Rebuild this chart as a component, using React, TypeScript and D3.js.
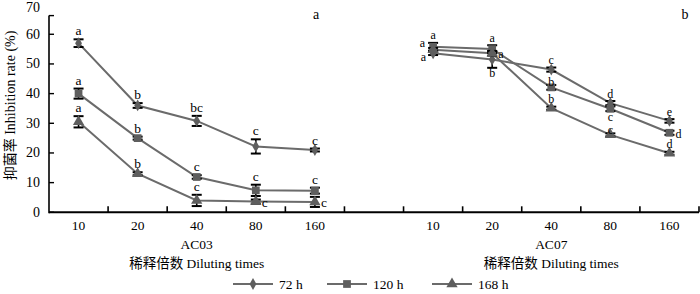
import React from "react";
import * as d3 from "d3";

const categories = ["10", "20", "40", "80", "160"];
const panels = ["AC03", "AC07"];
const seriesNames = ["72 h", "120 h", "168 h"];
const yTicks = [0, 10, 20, 30, 40, 50, 60, 70];

const ac03_72 = [57.0, 36.0, 30.8, 22.2, 21.0];
const ac03_72_err = [1.3, 0.8, 1.7, 2.4, 0.5];
const ac03_72_lab = ["a", "b", "bc", "c", "c"];
const ac03_120 = [40.0, 25.0, 11.9, 7.4, 7.3];
const ac03_120_err = [1.7, 0.5, 0.6, 1.9, 1.0];
const ac03_120_lab = ["a", "b", "c", "c", "c"];
const ac03_168 = [30.5, 13.0, 4.0, 3.6, 3.5];
const ac03_168_err = [1.9, 0.5, 1.9, 0.7, 1.7];
const ac03_168_lab = ["a", "b", "c", "c", "c"];

const ac07_72 = [53.6, 51.5, 48.1, 36.8, 30.8];
const ac07_72_err = [0.6, 2.8, 0.7, 0.7, 0.6];
const ac07_72_lab = ["a", "b", "c", "d", "e"];
const ac07_120 = [55.8, 55.0, 42.1, 34.9, 26.8];
const ac07_120_err = [1.3, 1.3, 0.8, 0.8, 0.7];
const ac07_120_lab = ["a", "a", "b", "c", "d"];
const ac07_168 = [54.8, 53.6, 35.1, 26.1, 19.9];
const ac07_168_err = [0.6, 0.8, 0.5, 0.5, 0.5];
const ac07_168_lab = ["a", "a", "b", "c", "d"];

// label placement keywords (styling)
const ac03_pos = [
  ["above", "above", "above", "above", "above"],
  ["above", "above", "above", "above", "above"],
  ["above", "above", "above", "right", "right"],
];
const ac07_pos = [
  ["downleft", "below", "above", "above", "above"],
  ["above", "above", "tight", "below", "right"],
  ["upleft", "right", "above", "tight", "above"],
];

const W = 700;
const H = 294;
const LINE = "#6b6b6b";
const MARK = "#5e5e5e";
const FONT = "'Liberation Serif', 'Times New Roman', 'Noto Sans CJK SC', serif";

const symbols = [d3.symbolDiamond, d3.symbolSquare, d3.symbolTriangle];
const symSizes = [40, 60, 55];

export default function App() {
  const bandKeys = [
    ...categories.map((c) => `${panels[0]}-${c}`),
    "gap",
    ...categories.map((c) => `${panels[1]}-${c}`),
  ];
  const x = d3.scaleBand<string>().domain(bandKeys).range([49, 699]).padding(0);
  const y = d3.scaleLinear().domain([0, 70]).range([212.3, 4.6]);
  const cx = (k: string) => (x(k) as number) + x.bandwidth() / 2;

  const panelData = [
    {
      name: panels[0],
      series: [
        { v: ac03_72, e: ac03_72_err, l: ac03_72_lab, p: ac03_pos[0] },
        { v: ac03_120, e: ac03_120_err, l: ac03_120_lab, p: ac03_pos[1] },
        { v: ac03_168, e: ac03_168_err, l: ac03_168_lab, p: ac03_pos[2] },
      ],
    },
    {
      name: panels[1],
      series: [
        { v: ac07_72, e: ac07_72_err, l: ac07_72_lab, p: ac07_pos[0] },
        { v: ac07_120, e: ac07_120_err, l: ac07_120_lab, p: ac07_pos[1] },
        { v: ac07_168, e: ac07_168_err, l: ac07_168_lab, p: ac07_pos[2] },
      ],
    },
  ];

  const line = d3
    .line<{ x: number; y: number }>()
    .x((d) => d.x)
    .y((d) => d.y);

  const boundaries = bandKeys.slice(1).map((k) => x(k) as number).concat([699]);
  const capW = 5;
  const isRight = (name: string) => name === panels[1];

  return (
    <svg
      width={W}
      height={H}
      style={{ position: "absolute", left: 0, top: 0, background: "#fff", fontFamily: FONT }}
    >
      <rect width={W} height={H} fill="#fff" />
      {/* axes */}
      <line x1={49} x2={49} y1={y(0) + 1} y2={y(70) + 11} stroke="#000" strokeWidth={1.6} />
      <line x1={49} x2={699} y1={y(0)} y2={y(0)} stroke="#000" strokeWidth={2} />
      {yTicks.map((t) => (
        <g key={t}>
          {t < 70 ? (
            <line x1={49} x2={54} y1={y(t)} y2={y(t)} stroke="#000" strokeWidth={1.4} />
          ) : (
            <line x1={49} x2={54} y1={y(70) + 11} y2={y(70) + 11} stroke="#000" strokeWidth={1.4} />
          )}
          <text
            x={40}
            y={y(t) + (t === 70 ? 3 : 0)}
            textAnchor="end"
            dominantBaseline="central"
            fontSize={14}
            fill="#000"
          >
            {t}
          </text>
        </g>
      ))}
      {boundaries.map((b, i) => (
        <line key={i} x1={b} x2={b} y1={y(0)} y2={y(0) - 6} stroke="#000" strokeWidth={1.6} />
      ))}
      {bandKeys
        .filter((k) => k !== "gap")
        .map((k) => (
          <text key={k} x={cx(k)} y={230} textAnchor="middle" fontSize={13.5} fill="#000">
            {k.split("-")[1]}
          </text>
        ))}
      {panels.map((p) => (
        <g key={p}>
          <text x={cx(`${p}-40`)} y={249} textAnchor="middle" fontSize={13.5} fill="#000">
            {p}
          </text>
          <text x={cx(`${p}-40`)} y={268} textAnchor="middle" fontSize={13.5} fill="#000">
            稀释倍数  Diluting times
          </text>
        </g>
      ))}
      <text
        transform={`translate(15,${y(35) - 3}) rotate(-90)`}
        textAnchor="middle"
        fontSize={14}
        fill="#000"
      >
        抑菌率 Inhibition rate (%)
      </text>
      <text x={316} y={19} textAnchor="middle" fontSize={14} fill="#000">
        a
      </text>
      <text x={685} y={19} textAnchor="middle" fontSize={14} fill="#000">
        b
      </text>

      {/* series */}
      {panelData.map((pd) =>
        pd.series.map((s, si) => {
          const pts = s.v.map((v, i) => ({ x: cx(`${pd.name}-${categories[i]}`), y: y(v) }));
          return (
            <g key={`${pd.name}-${si}`}>
              <path d={line(pts) as string} fill="none" stroke={LINE} strokeWidth={2} />
            </g>
          );
        })
      )}
      {panelData.map((pd) =>
        pd.series.map((s, si) => (
          <g key={`eb-${pd.name}-${si}`}>
            {s.v.map((v, i) => {
              const px = cx(`${pd.name}-${categories[i]}`);
              const top = y(v + s.e[i]);
              const bot = y(v - s.e[i]);
              return (
                <g key={i}>
                  <line x1={px} x2={px} y1={top} y2={bot} stroke="#000" strokeWidth={1.6} />
                  <line x1={px - capW} x2={px + capW} y1={top} y2={top} stroke="#000" strokeWidth={2} />
                  <line x1={px - capW} x2={px + capW} y1={bot} y2={bot} stroke="#000" strokeWidth={2} />
                  <path
                    d={d3.symbol(symbols[si], symSizes[si])() as string}
                    transform={`translate(${px},${y(v)})`}
                    fill={MARK}
                  />
                </g>
              );
            })}
          </g>
        ))
      )}
      {panelData.map((pd) =>
        pd.series.map((s, si) => (
          <g key={`lab-${pd.name}-${si}`}>
            {s.v.map((v, i) => {
              const px = cx(`${pd.name}-${categories[i]}`);
              const top = y(v + s.e[i]);
              const bot = y(v - s.e[i]);
              const pos = s.p[i];
              let tx = px;
              let ty = top - (isRight(pd.name) ? 3.5 : 4);
              let anchor = "middle";
              if (pos === "tight") {
                ty = top + 1;
              } else if (pos === "below") {
                ty = bot + 9.5;
              } else if (pos === "right") {
                tx = px + 6;
                ty = y(v) + 5;
                anchor = "start";
              } else if (pos === "upleft") {
                tx = px - 8;
                ty = y(v) - 3;
                anchor = "end";
              } else if (pos === "downleft") {
                tx = px - 7;
                ty = y(v) + 8;
                anchor = "end";
              }
              return (
                <text
                  key={i}
                  x={tx}
                  y={ty}
                  textAnchor={anchor}
                  fontSize={isRight(pd.name) ? 12 : 13.5}
                  fill="#000"
                >
                  {s.l[i]}
                </text>
              );
            })}
          </g>
        ))
      )}

      {/* legend */}
      {seriesNames.map((n, i) => {
        const lx = [233, 327, 432][i];
        const ly = 284;
        return (
          <g key={n}>
            <line x1={lx} x2={lx + 40} y1={ly} y2={ly} stroke={LINE} strokeWidth={2} />
            <path
              d={d3.symbol(symbols[i], symSizes[i])() as string}
              transform={`translate(${lx + 20},${ly})`}
              fill={MARK}
            />
            <text x={lx + 46} y={ly + 4.5} fontSize={13.5} fill="#000">
              {n}
            </text>
          </g>
        );
      })}
    </svg>
  );
}
